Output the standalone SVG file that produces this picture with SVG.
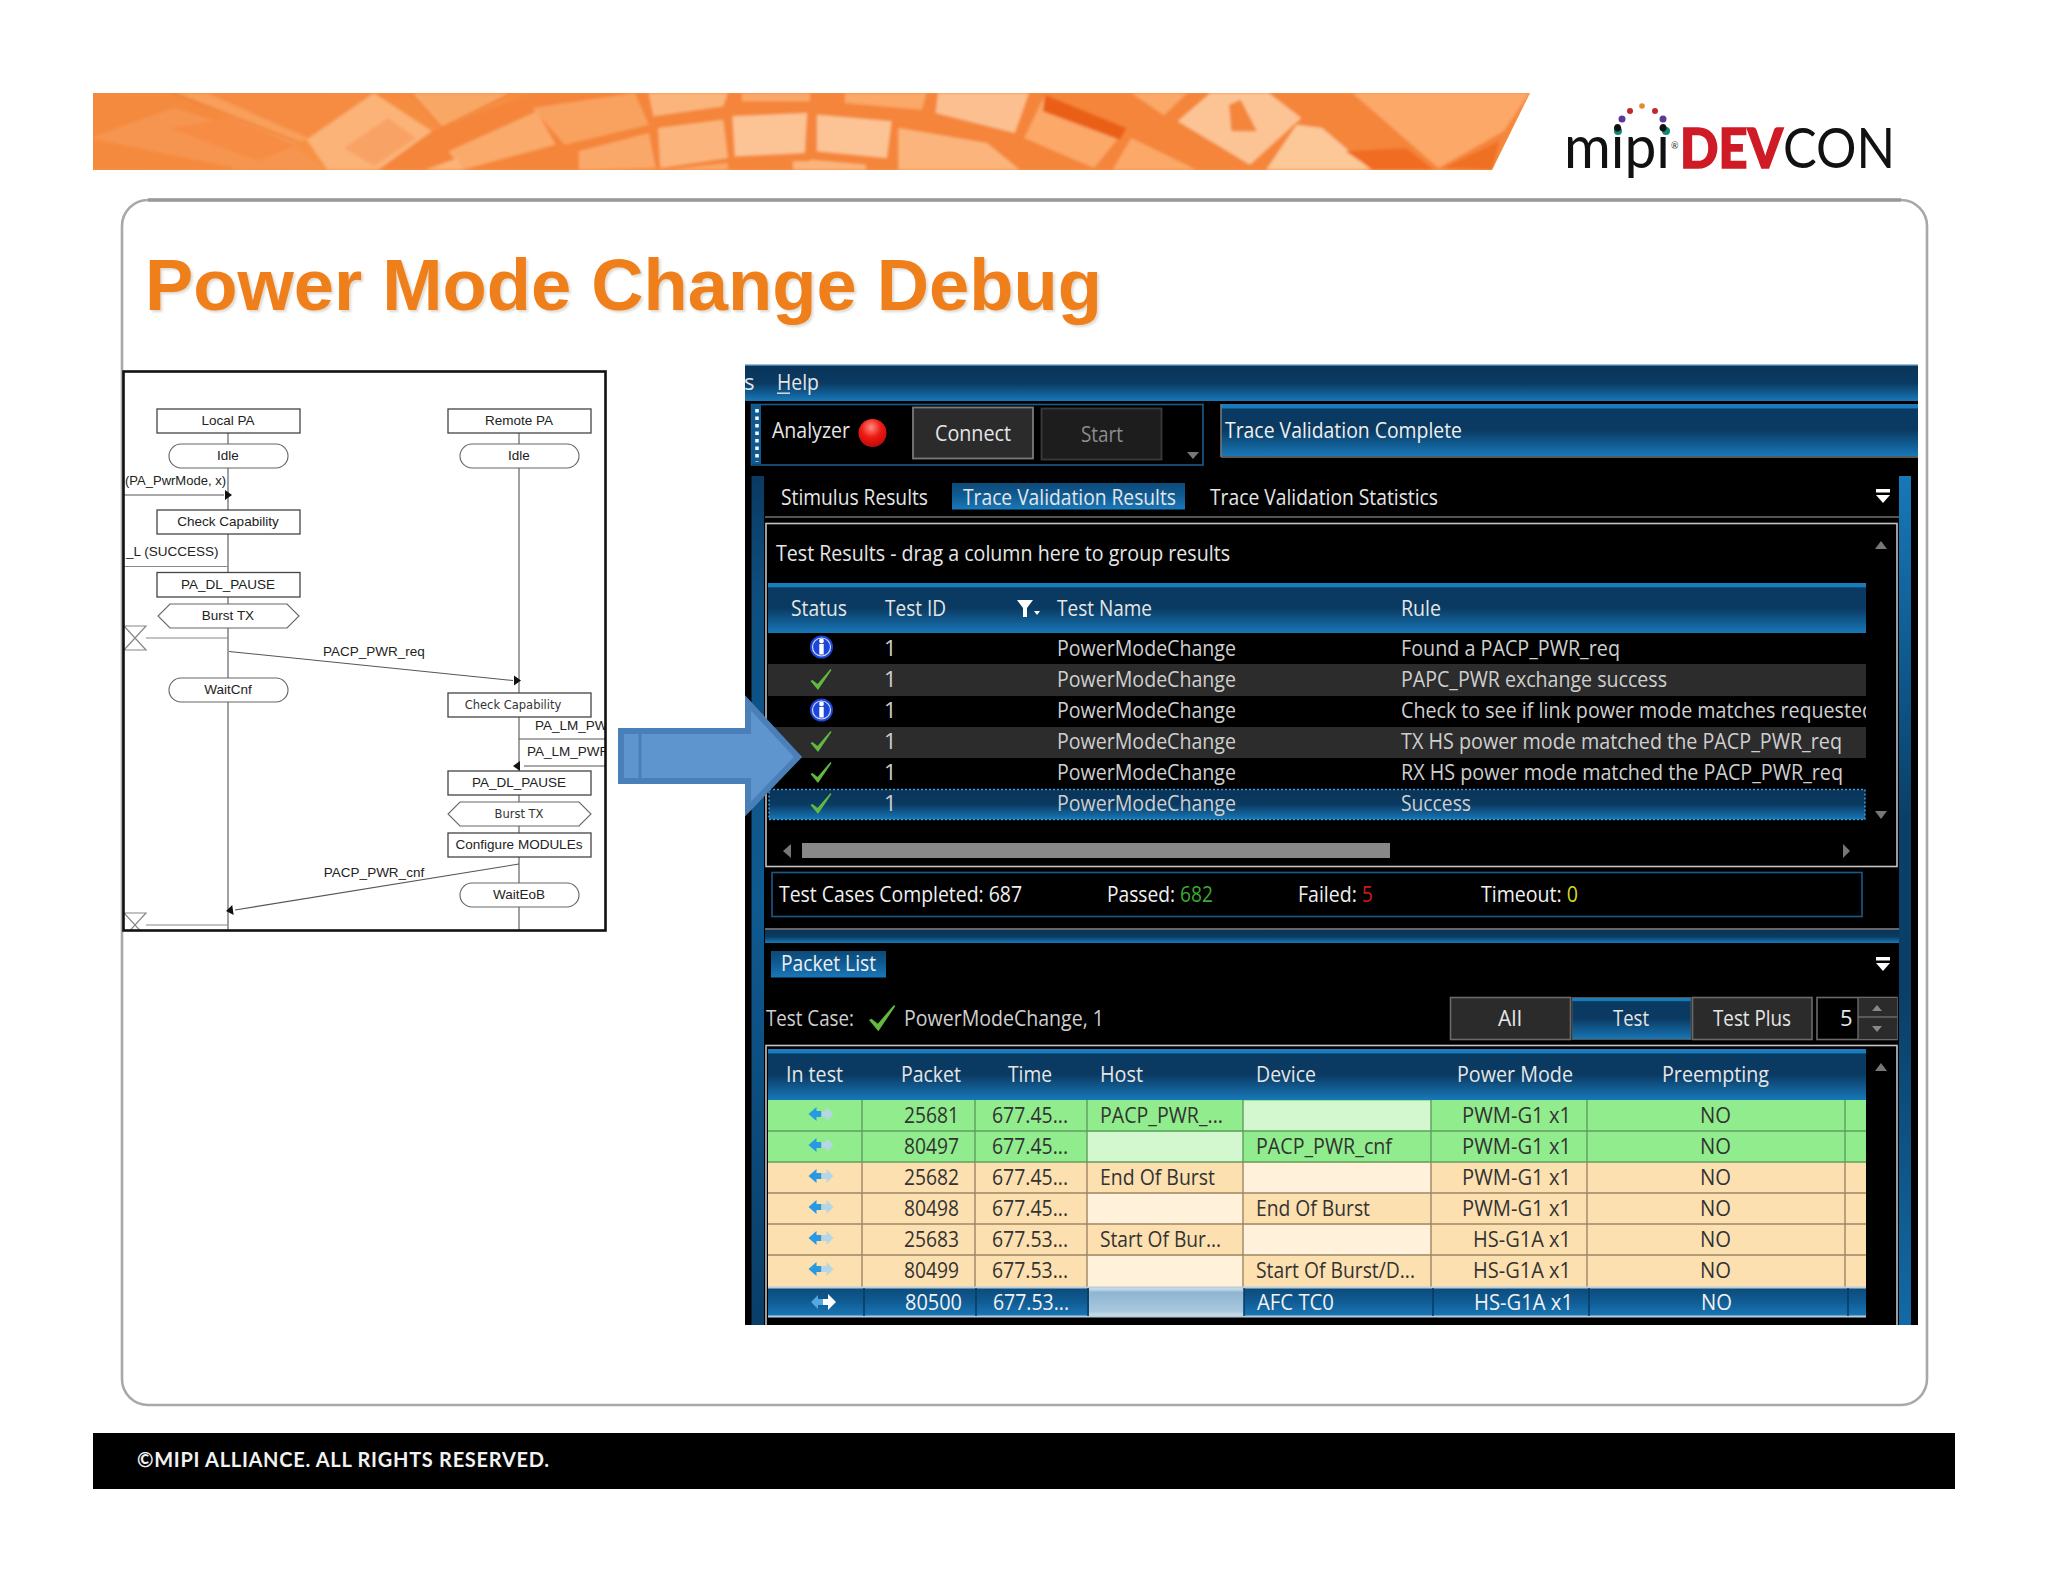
<svg xmlns="http://www.w3.org/2000/svg" xmlns:xlink="http://www.w3.org/1999/xlink" width="2048" height="1582" viewBox="0 0 2048 1582">
<style>
.s{font-family:"Liberation Sans",Arial,sans-serif;font-size:13.5px;fill:#222;text-anchor:middle}
.sl{text-anchor:start}
.sv{font-family:"DejaVu Sans",sans-serif;font-size:11.5px;fill:#333}
.b{fill:#fff;stroke:#444;stroke-width:1.3}
.o{fill:#fff;stroke:#666;stroke-width:1.1}
.ln{stroke:#555;stroke-width:1.1;fill:none}
.lg{stroke:#888;stroke-width:1.2;fill:none}
.t{font-family:"Open Sans","Noto Sans",sans-serif;font-size:22px;fill:#e6e6e6}
.c{fill:#cfcfcf}
.d{fill:#333;text-anchor:start}
.m{text-anchor:middle}
.lb{stroke:#1a5a8a;stroke-width:1.6;fill:none}
.pg{stroke:none}
.ar{fill:#8a8a8a}
</style>
<defs>
<linearGradient id="gH" x1="0" y1="0" x2="0" y2="1"><stop offset="0" stop-color="#1a7cba"/><stop offset=".07" stop-color="#1a7cba"/><stop offset=".1" stop-color="#0a3a62"/><stop offset=".5" stop-color="#0a3a62"/><stop offset="1" stop-color="#1878b8"/></linearGradient>
<linearGradient id="gB" x1="0" y1="0" x2="0" y2="1"><stop offset="0" stop-color="#0a3459"/><stop offset=".5" stop-color="#0a3a62"/><stop offset="1" stop-color="#1878b8"/></linearGradient>
<linearGradient id="gS" x1="0" y1="0" x2="0" y2="1"><stop offset="0" stop-color="#0d4a78"/><stop offset=".45" stop-color="#0f5a92"/><stop offset="1" stop-color="#1a78b8"/></linearGradient>
<linearGradient id="gV" x1="0" y1="0" x2="0" y2="1"><stop offset="0" stop-color="#1878b8"/><stop offset=".2" stop-color="#0f5c92"/><stop offset=".4" stop-color="#0a4068"/><stop offset=".6" stop-color="#0a3e66"/><stop offset="1" stop-color="#126aa5"/></linearGradient>
<linearGradient id="gL" x1="0" y1="0" x2="0" y2="1"><stop offset="0" stop-color="#0a3a62"/><stop offset=".15" stop-color="#0e4f80"/><stop offset=".5" stop-color="#0f5a92"/><stop offset="1" stop-color="#0a3e68"/></linearGradient>
<linearGradient id="gE" x1="0" y1="0" x2="0" y2="1"><stop offset="0" stop-color="#dbe6ee"/><stop offset=".15" stop-color="#8fb5d2"/><stop offset=".8" stop-color="#a9c8de"/><stop offset="1" stop-color="#d8e4ec"/></linearGradient>
<linearGradient id="gA" x1="0" y1="0" x2="1" y2="1"><stop offset="0" stop-color="#f58a3c"/><stop offset="1" stop-color="#f7994f"/></linearGradient>
<radialGradient id="gR" cx=".45" cy=".3" r=".8"><stop offset="0" stop-color="#ff8a80"/><stop offset=".45" stop-color="#ee1a12"/><stop offset="1" stop-color="#b00808"/></radialGradient>
<clipPath id="cF"><rect x="124" y="372" width="481" height="558"/></clipPath>
<clipPath id="cS"><rect x="745" y="364" width="1173" height="961"/></clipPath>
<clipPath id="cR"><rect x="768" y="633" width="1098" height="187"/></clipPath>
<clipPath id="cB"><polygon points="93,93 1530,93 1492,170 93,170"/></clipPath>
<filter id="bl" x="-2%" y="-10%" width="104%" height="120%"><feGaussianBlur stdDeviation="1.5"/></filter>
<filter id="ts" x="-2%" y="-10%" width="104%" height="120%"><feGaussianBlur stdDeviation="1.2"/></filter>
<g id="ck"><polygon points="0,12 2,11 7,15 20,0 21,1 7.5,21" fill="#62b840"/></g>
<g id="inf"><circle r="11.500" fill="#1c46d6"/><circle r="9" fill="none" stroke="#cfd9ff" stroke-width="1.200"/><rect x="-2.200" y="-3" width="4.400" height="10.500" fill="#fff"/><circle cy="-6" r="2.400" fill="#fff"/></g>
<g id="da"><polygon points="-13,0 -5,-7 -5,-3 0,-3 0,3 -5,3 -5,7" fill="#2a9ae0"/><polygon points="12,0 5,-7 5,-3 0,-3 0,3 5,3 5,7" fill="#b6d6e6"/></g>
<g id="mn"><rect x="-7" y="0" width="14" height="3.500" fill="#fff"/><polygon points="-7,6 7,6 0,14" fill="#fff"/></g>
<polygon id="ah" points="0,0 -7,-5 -7,5" fill="#111"/>
</defs>
<rect width="2048" height="1582" fill="#fff"/>

<g id="banner" clip-path="url(#cB)"><rect x="93" y="93" width="1440" height="77" fill="url(#gA)"/>
<g filter="url(#bl)">
<g transform="translate(90,88) scale(.4656,.3333)">
<polygon class="pg" points="0,15 180,15 440,170 300,245 0,245" fill="#f48a3e"/>
<polygon class="pg" points="0,150 180,60 440,175 500,245 330,245" fill="#f6954f"/>
<polygon class="pg" points="170,120 300,90 440,175 360,220" fill="#f78d45"/>
<polygon class="pg" points="250,15 610,15 470,150" fill="#f58c42"/>
<polygon class="pg" points="180,15 250,15 470,150 440,170" fill="#f89f5a"/>
<path d="M180,15 L450,165" stroke="#ea7326" stroke-width="4" fill="none"/>
<polygon class="pg" points="610,15 735,130 620,245 510,245 465,155" fill="#fbb378"/>
<polygon class="pg" points="545,180 640,90 700,150 610,235" fill="#f9a265"/>
<polygon class="pg" points="690,15 905,15 755,118" fill="#f9a765"/>
<path d="M690,15 L755,118 L905,15" stroke="#ed7c30" stroke-width="3" fill="none"/>
<polygon class="pg" points="735,130 950,15 1200,15 1400,15 1568,15 1568,245 620,245" fill="#f4853a"/>
<polygon class="pg" points="950,60 1170,15 1200,110 1020,170" fill="#f9a25f"/>
<polygon class="pg" points="770,190 960,70 1000,170 800,245" fill="#faaa6a"/>
<polygon class="pg" points="1200,15 1370,15 1360,55 1210,85" fill="#fbb57c"/>
<polygon class="pg" points="1380,85 1540,75 1535,195 1385,205" fill="#fcc494"/>
<polygon class="pg" points="1220,120 1360,95 1370,210 1225,240" fill="#fbb57c"/>
<polygon class="pg" points="1050,190 1200,135 1215,240 1050,245" fill="#faa869"/>
<polygon class="pg" points="1400,15 1568,15 1568,40 1400,40" fill="#faa869"/>
<polygon class="pg" points="720,245 790,210 800,245" fill="#fbb378"/>
<polygon class="pg" points="1240,245 1370,225 1370,245" fill="#fba868"/>
<polygon class="pg" points="1510,245 1510,220 1568,220 1568,245" fill="#fbb57c"/>
</g>
<g transform="translate(810,88) scale(.4656,.3333)">
<polygon class="pg" points="0,15 1545,15 1465,245 0,245" fill="#f4853a"/>
<polygon class="pg" points="75,15 250,15 240,65 75,45" fill="#fba868"/>
<polygon class="pg" points="275,15 470,15 440,135 270,75" fill="#fcc090"/>
<polygon class="pg" points="15,80 175,100 165,210 15,190" fill="#fcc494"/>
<polygon class="pg" points="190,120 380,165 450,245 190,245" fill="#fbb57c"/>
<polygon class="pg" points="0,215 120,230 120,245 0,245" fill="#fbb57c"/>
<polygon class="pg" points="505,20 680,120 610,240 460,150" fill="#fba868"/>
<polygon class="pg" points="505,20 680,120 665,155 500,70" fill="#ea5f14"/>
<polygon class="pg" points="690,15 810,15 760,82" fill="#fba868"/>
<polygon class="pg" points="690,150 830,245 650,245" fill="#fba868"/>
<polygon class="pg" points="860,15 985,15 1055,90 945,230 790,100" fill="#fcc494"/>
<polygon class="pg" points="900,50 925,35 960,130 905,130" fill="#f4853a"/>
<polygon class="pg" points="1045,110 1100,120 1205,245 980,245" fill="#fcc898"/>
<polygon class="pg" points="1165,15 1545,15 1490,130 1350,240" fill="#fba868"/>
<polygon class="pg" points="1360,240 1480,160 1465,245" fill="#ef7024"/>
<polygon class="pg" points="1150,190 1280,180 1340,245 1210,245" fill="#f06c20"/>
</g>
</g></g>

<g id="logo">
<circle cx="1642" cy="106" r="2.800" fill="#e8872c"/><circle cx="1630" cy="111" r="3" fill="#c4262e"/><circle cx="1655" cy="111" r="3" fill="#c4262e"/>
<circle cx="1622" cy="119" r="3.500" fill="#5b3a97"/><circle cx="1663" cy="119" r="3.500" fill="#5b3a97"/><circle cx="1618" cy="131" r="4" fill="#0f8a74"/><circle cx="1666" cy="131" r="4" fill="#0f8a74"/>
<text x="1564" y="168" font-family="Lato,sans-serif" font-size="60" fill="#111" textLength="106" lengthAdjust="spacingAndGlyphs">mipi</text>
<text x="1671" y="149" font-family="Lato,sans-serif" font-size="9" fill="#333">®</text>
<text x="1680" y="168" font-family="Lato,sans-serif" font-size="56" fill="#111" textLength="215" lengthAdjust="spacingAndGlyphs"><tspan font-weight="900" fill="#cf1b26" stroke="#cf1b26" stroke-width="1.500">DEV</tspan>CON</text>
</g>

<g id="card"><rect x="122" y="200" width="1805" height="1205" rx="26" fill="#fff" stroke="#a8a8a8" stroke-width="2.600"/><path d="M148,200 H1901" stroke="#999" stroke-width="3.500"/></g>
<g id="title">
<text x="145" y="310" font-family="Liberation Sans,Arial,sans-serif" font-weight="700" font-size="72" fill="#ef7f1a" textLength="957" lengthAdjust="spacingAndGlyphs" style="filter:drop-shadow(2px 2px 1.200px rgba(190,180,165,.5))">Power Mode Change Debug</text></g>

<g id="sequence">
<rect x="123.500" y="371.500" width="482" height="559" fill="#fff"/>
<g clip-path="url(#cF)">
<g id="connectors">
<path class="ln" d="M228,433V931M519,433V931"/>
<path class="ln" d="M124,495H224"/><use href="#ah" x="232" y="495"/>
<path class="lg" d="M124,566.500H228M146,638H228M146,925H228"/>
<path class="lg" d="M124,626H146L124,650H146L124,626M124,913L146,913L124,937H146L124,913" stroke-width="1"/>
<path class="ln" d="M229,651.500L513,680.500"/><use href="#ah" x="521" y="680.500"/>
<path class="ln" d="M519,739H606M524,766H606"/><use href="#ah" transform="translate(513,766) rotate(180)"/>
<path class="ln" d="M519,864L235,910"/><use href="#ah" transform="translate(226,911) rotate(172)"/>
</g>
<text class="s sl" x="125" y="485" textLength="101" lengthAdjust="spacingAndGlyphs">(PA_PwrMode, x)</text>
<text class="s sl" x="126" y="556">_L (SUCCESS)</text>
<text class="s" x="374" y="655.500">PACP_PWR_req</text>
<text class="s" x="374" y="877">PACP_PWR_cnf</text>
<text class="s sl" x="535" y="729.500">PA_LM_PWR</text>
<text class="s sl" x="527" y="756">PA_LM_PWR</text>
</g>
<g id="n-local-pa"><rect class="b" x="157" y="409" width="143" height="24"/><text class="s" x="228" y="425">Local PA</text></g>
<g id="n-remote-pa"><rect class="b" x="448" y="409" width="143" height="24"/><text class="s" x="519" y="425">Remote PA</text></g>
<g id="n-idle-l"><rect class="o" x="169" y="444" width="119" height="24" rx="12"/><text class="s" x="228" y="460">Idle</text></g>
<g id="n-idle-r"><rect class="o" x="460" y="444" width="119" height="24" rx="12"/><text class="s" x="519" y="460">Idle</text></g>
<g id="n-check-l"><rect class="b" x="157" y="510" width="143" height="24"/><text class="s" x="228" y="526">Check Capability</text></g>
<g id="n-pause-l"><rect class="b" x="157" y="572.500" width="143" height="24.500"/><text class="s" x="228" y="589">PA_DL_PAUSE</text></g>
<g id="n-burst-l"><polygon class="o" points="170,604 287,604 299,616 287,628 170,628 158,616"/><text class="s" x="228" y="619.500">Burst TX</text></g>
<g id="n-waitcnf"><rect class="o" x="169" y="678" width="119" height="24" rx="12"/><text class="s" x="228" y="693.500">WaitCnf</text></g>
<g id="n-check-r"><rect class="b" x="448" y="693" width="143" height="24"/><text class="sv" text-anchor="middle" x="513" y="709">Check Capability</text></g>
<g id="n-pause-r"><rect class="b" x="448" y="771" width="143" height="24"/><text class="s" x="519" y="787">PA_DL_PAUSE</text></g>
<g id="n-burst-r"><polygon class="o" points="460,802 579,802 591,814 579,826 460,826 448,814"/><text class="sv" text-anchor="middle" x="519" y="818">Burst TX</text></g>
<g id="n-config"><rect class="b" x="448" y="833" width="143" height="24"/><text class="s" x="519" y="848.500">Configure MODULEs</text></g>
<g id="n-waiteob"><rect class="o" x="460" y="883" width="119" height="24" rx="12"/><text class="s" x="519" y="898.500">WaitEoB</text></g>
<rect x="123.500" y="371.500" width="482" height="559" fill="none" stroke="#111" stroke-width="2.600"/>
</g>

<g id="screen" clip-path="url(#cS)">
<rect x="745" y="364" width="1173" height="961" fill="#000"/>
<rect x="745" y="365" width="1173" height="36" fill="url(#gB)"/><rect x="745" y="364" width="1173" height="1.500" fill="#8fc0e0"/>
<text class="t" x="744" y="389.500">s</text><text class="t" x="777" y="389.500" textLength="42" lengthAdjust="spacingAndGlyphs">Help</text><rect x="777" y="392.500" width="13" height="1.400" fill="#e6e6e6"/>
<rect x="751.500" y="404.500" width="451.500" height="60.500" class="lb"/>
<rect x="752" y="405" width="9" height="59" fill="#0e5a90"/><path d="M757,409V462" stroke="#fff" stroke-width="3.500" stroke-dasharray="3.500 4"/>
<text class="t" x="772" y="438" fill="#f0f0f0" textLength="78" lengthAdjust="spacingAndGlyphs">Analyzer</text>
<ellipse cx="872.500" cy="433" rx="14" ry="14" fill="url(#gR)"/>
<rect x="913" y="407.500" width="120" height="51" fill="#2b2b2b" stroke="#7a7a7a" stroke-width="1.800"/><text class="t" x="935" y="441" textLength="76" lengthAdjust="spacingAndGlyphs">Connect</text>
<rect x="1041.500" y="408.500" width="120" height="51" fill="#1d1d1d" stroke="#3a3a3a" stroke-width="1.800"/><text class="t" x="1081" y="442" style="fill:#8c8c8c" textLength="42" lengthAdjust="spacingAndGlyphs">Start</text>
<polygon points="1187,452 1199,452 1193,459" fill="#777"/>
<rect x="1221" y="404" width="697" height="52" fill="url(#gH)"/><path d="M1221,457H1918M1221,404V457" stroke="#777" stroke-width="1.600"/>
<text class="t" x="1225" y="438" style="fill:#f0f0f0" textLength="237" lengthAdjust="spacingAndGlyphs">Trace Validation Complete</text>
<rect x="751.500" y="476" width="12.500" height="849" fill="url(#gL)"/><rect x="1899" y="476" width="12" height="849" fill="url(#gV)"/>

<text class="t" x="781" y="505" textLength="147" lengthAdjust="spacingAndGlyphs">Stimulus Results</text>
<rect x="952" y="483" width="233" height="26.500" fill="url(#gS)"/><text class="t" x="963" y="505" textLength="213" lengthAdjust="spacingAndGlyphs">Trace Validation Results</text>
<text class="t" x="1210" y="505" textLength="228" lengthAdjust="spacingAndGlyphs">Trace Validation Statistics</text>
<use href="#mn" x="1883" y="489"/>
<rect x="765" y="516" width="1134" height="2" fill="#555"/>

<rect x="766" y="523.500" width="1131" height="343" fill="#000" stroke="#c4c4c4" stroke-width="1.600"/>
<text class="t" x="776" y="561" textLength="454" lengthAdjust="spacingAndGlyphs">Test Results - drag a column here to group results</text>
<polygon points="1875,549 1887,549 1881,541" fill="#777"/>
<rect x="768" y="583" width="1098" height="50" fill="url(#gH)"/>
<text class="t" x="791" y="616" textLength="56" lengthAdjust="spacingAndGlyphs">Status</text>
<text class="t" x="885" y="616" textLength="61" lengthAdjust="spacingAndGlyphs">Test ID</text>
<polygon points="1017,600 1033,600 1027,608 1027,617 1023,617 1023,608" fill="#fff"/><polygon points="1034,611 1040,611 1037,615" fill="#fff"/>
<text class="t" x="1057" y="616" textLength="95" lengthAdjust="spacingAndGlyphs">Test Name</text>
<text class="t" x="1401" y="616" textLength="40" lengthAdjust="spacingAndGlyphs">Rule</text>

<rect x="768" y="664" width="1098" height="32" fill="#2c2c2c"/><rect x="768" y="727" width="1098" height="31" fill="#2c2c2c"/>
<rect x="769" y="789.500" width="1096" height="30" fill="url(#gB)" stroke="#3f9ad2" stroke-width="1.500" stroke-dasharray="2 2"/>
<use href="#inf" x="821.500" y="647"/><use href="#inf" x="821.500" y="710"/>
<use href="#ck" x="810.500" y="669"/><use href="#ck" x="810.500" y="731"/><use href="#ck" x="810.500" y="762"/><use href="#ck" x="810.500" y="793"/>
<g class="rows">
<text class="t c" x="884" y="656">1</text><text class="t c" x="884" y="687">1</text><text class="t c" x="884" y="718">1</text><text class="t c" x="884" y="749">1</text><text class="t c" x="884" y="780">1</text><text class="t c" x="884" y="811">1</text>
<text class="t c" x="1057" y="656" textLength="179" lengthAdjust="spacingAndGlyphs">PowerModeChange</text>
<text class="t c" x="1057" y="687" textLength="179" lengthAdjust="spacingAndGlyphs">PowerModeChange</text>
<text class="t c" x="1057" y="718" textLength="179" lengthAdjust="spacingAndGlyphs">PowerModeChange</text>
<text class="t c" x="1057" y="749" textLength="179" lengthAdjust="spacingAndGlyphs">PowerModeChange</text>
<text class="t c" x="1057" y="780" textLength="179" lengthAdjust="spacingAndGlyphs">PowerModeChange</text>
<text class="t c" x="1057" y="811" textLength="179" lengthAdjust="spacingAndGlyphs">PowerModeChange</text>
<g clip-path="url(#cR)">
<text class="t c" x="1401" y="656" textLength="219" lengthAdjust="spacingAndGlyphs">Found a PACP_PWR_req</text>
<text class="t c" x="1401" y="687" textLength="266" lengthAdjust="spacingAndGlyphs">PAPC_PWR exchange success</text>
<text class="t c" x="1401" y="718" textLength="473" lengthAdjust="spacingAndGlyphs">Check to see if link power mode matches requested</text>
<text class="t c" x="1401" y="749" textLength="441" lengthAdjust="spacingAndGlyphs">TX HS power mode matched the PACP_PWR_req</text>
<text class="t c" x="1401" y="780" textLength="442" lengthAdjust="spacingAndGlyphs">RX HS power mode matched the PACP_PWR_req</text>
<text class="t c" x="1401" y="811" textLength="70" lengthAdjust="spacingAndGlyphs">Success</text>
</g></g>
<polygon points="1875,811 1887,811 1881,819" fill="#777"/>
<polygon points="783,851 791,844 791,858" fill="#777"/><rect x="802" y="843" width="588" height="15" fill="#888"/><polygon points="1850,851 1843,844 1843,858" fill="#777"/>

<rect x="772" y="872.500" width="1090" height="44" class="lb"/>
<text class="t" x="779" y="902" style="fill:#f0f0f0" textLength="243" lengthAdjust="spacingAndGlyphs">Test Cases Completed: 687</text>
<text class="t" x="1107" y="902" style="fill:#f0f0f0" textLength="106" lengthAdjust="spacingAndGlyphs">Passed: <tspan style="fill:#3da832">682</tspan></text>
<text class="t" x="1298" y="902" style="fill:#f0f0f0" textLength="75" lengthAdjust="spacingAndGlyphs">Failed: <tspan style="fill:#d01818">5</tspan></text>
<text class="t" x="1481" y="902" style="fill:#f0f0f0" textLength="97" lengthAdjust="spacingAndGlyphs">Timeout: <tspan style="fill:#d8d820">0</tspan></text>
<rect x="765" y="928" width="1134" height="2" fill="#666"/><rect x="765" y="930" width="1134" height="13" fill="url(#gB)"/>

<rect x="771" y="951" width="115" height="26.500" fill="url(#gS)"/><text class="t" x="781" y="971" style="fill:#f0f0f0" textLength="95" lengthAdjust="spacingAndGlyphs">Packet List</text>
<use href="#mn" x="1883" y="957"/>
<text class="t c" x="766" y="1026" textLength="88" lengthAdjust="spacingAndGlyphs">Test Case:</text>
<use href="#ck" transform="translate(869,1005) scale(1.250)"/>
<text class="t c" x="904" y="1026" textLength="200" lengthAdjust="spacingAndGlyphs">PowerModeChange, 1</text>
<rect x="1450.500" y="997.500" width="120" height="42" fill="#2b2b2b" stroke="#6a6a6a" stroke-width="1.600"/><text class="t" x="1498" y="1026" textLength="24" lengthAdjust="spacingAndGlyphs">All</text>
<rect x="1572" y="997.500" width="119" height="42" fill="url(#gH)" stroke="#555" stroke-width="1"/><text class="t" x="1613" y="1026" textLength="36" lengthAdjust="spacingAndGlyphs">Test</text>
<rect x="1692.500" y="997.500" width="119.500" height="42" fill="#2b2b2b" stroke="#6a6a6a" stroke-width="1.600"/><text class="t" x="1713" y="1026" textLength="78" lengthAdjust="spacingAndGlyphs">Test Plus</text>
<rect x="1817" y="997.500" width="80" height="42" fill="#000" stroke="#6a6a6a" stroke-width="1.600"/><rect x="1858" y="998" width="39" height="41" fill="#2b2b2b"/><path d="M1858,998V1039M1858,1017H1897" stroke="#6a6a6a" stroke-width="1.400"/>
<text class="t" x="1840" y="1026">5</text><polygon points="1872,1011 1882,1011 1877,1005" fill="#888"/><polygon points="1872,1026 1882,1026 1877,1032" fill="#888"/>

<rect x="766" y="1045.500" width="1131" height="300" fill="#000" stroke="#c4c4c4" stroke-width="1.600"/>
<rect x="768" y="1049" width="1098" height="51" fill="url(#gH)"/>
<text class="t" x="786" y="1082" textLength="57" lengthAdjust="spacingAndGlyphs">In test</text>
<text class="t" x="901" y="1082" textLength="60" lengthAdjust="spacingAndGlyphs">Packet</text>
<text class="t" x="1008" y="1082" textLength="44" lengthAdjust="spacingAndGlyphs">Time</text>
<text class="t" x="1100" y="1082" textLength="43" lengthAdjust="spacingAndGlyphs">Host</text>
<text class="t" x="1256" y="1082" textLength="60" lengthAdjust="spacingAndGlyphs">Device</text>
<text class="t" x="1457" y="1082" textLength="116" lengthAdjust="spacingAndGlyphs">Power Mode</text>
<text class="t" x="1662" y="1082" textLength="107" lengthAdjust="spacingAndGlyphs">Preempting</text>
<polygon points="1875,1071 1887,1071 1881,1063" fill="#777"/>

<g id="packet-rows">
<rect x="768" y="1100" width="1098" height="62" fill="#90ec8c"/><rect x="768" y="1162" width="1098" height="125" fill="#fde0b0"/>
<rect x="1243" y="1101" width="188" height="30" fill="#d3f8d0"/><rect x="1087" y="1132" width="156" height="30" fill="#d3f8d0"/>
<rect x="1243" y="1163" width="188" height="30" fill="#fff1da"/><rect x="1087" y="1194" width="156" height="30" fill="#fff1da"/>
<rect x="1243" y="1225" width="188" height="30" fill="#fff1da"/><rect x="1087" y="1256" width="156" height="31" fill="#fff1da"/>
<path d="M768,1131H1866M768,1162H1866M862,1100V1162M975,1100V1162M1087,1100V1162M1243,1100V1162M1431,1100V1162M1587,1100V1162M1845,1100V1162" stroke="#5f9e5f" stroke-width="1.400" fill="none"/>
<path d="M768,1193H1866M768,1224H1866M768,1255H1866M862,1162V1287M975,1162V1287M1087,1162V1287M1243,1162V1287M1431,1162V1287M1587,1162V1287M1845,1162V1287" stroke="#9c8666" stroke-width="1.400" fill="none"/>
<rect x="768" y="1287" width="1098" height="30" fill="url(#gS)"/><rect x="1089" y="1288" width="155" height="29" fill="url(#gE)"/>
<path d="M768,1287.500H1866M768,1316.500H1866" stroke="#b9cfdf" stroke-width="2"/>
<path d="M864,1288V1316M976,1288V1316M1088,1288V1316M1244,1288V1316M1433,1288V1316M1589,1288V1316M1848,1288V1316" stroke="#0a3a62" stroke-width="1.500"/>
<use href="#da" x="821.500" y="1114"/><use href="#da" x="821.500" y="1145"/><use href="#da" x="821.500" y="1176"/><use href="#da" x="821.500" y="1207"/><use href="#da" x="821.500" y="1238"/><use href="#da" x="821.500" y="1269"/>
<polygon points="811,1302 818,1295 818,1299 823,1299 823,1305 818,1305 818,1309" fill="#55a8e0"/><polygon points="836,1302 828,1294 828,1299 823,1299 823,1305 828,1305 828,1310" fill="#fff"/>
<text class="t d" x="904" y="1122.500" textLength="55" lengthAdjust="spacingAndGlyphs">25681</text><text class="t d" x="992" y="1122.500" textLength="76" lengthAdjust="spacingAndGlyphs">677.45...</text><text class="t d" x="1100" y="1122.500" textLength="123" lengthAdjust="spacingAndGlyphs">PACP_PWR_...</text><text class="t d" x="1462" y="1122.500" textLength="109" lengthAdjust="spacingAndGlyphs">PWM-G1 x1</text><text class="t d" x="1700" y="1122.500" textLength="31" lengthAdjust="spacingAndGlyphs">NO</text>
<text class="t d" x="904" y="1154" textLength="55" lengthAdjust="spacingAndGlyphs">80497</text><text class="t d" x="992" y="1154" textLength="76" lengthAdjust="spacingAndGlyphs">677.45...</text><text class="t d" x="1256" y="1154" textLength="136" lengthAdjust="spacingAndGlyphs">PACP_PWR_cnf</text><text class="t d" x="1462" y="1154" textLength="109" lengthAdjust="spacingAndGlyphs">PWM-G1 x1</text><text class="t d" x="1700" y="1154" textLength="31" lengthAdjust="spacingAndGlyphs">NO</text>
<text class="t d" x="904" y="1185" textLength="55" lengthAdjust="spacingAndGlyphs">25682</text><text class="t d" x="992" y="1185" textLength="76" lengthAdjust="spacingAndGlyphs">677.45...</text><text class="t d" x="1100" y="1185" textLength="115" lengthAdjust="spacingAndGlyphs">End Of Burst</text><text class="t d" x="1462" y="1185" textLength="109" lengthAdjust="spacingAndGlyphs">PWM-G1 x1</text><text class="t d" x="1700" y="1185" textLength="31" lengthAdjust="spacingAndGlyphs">NO</text>
<text class="t d" x="904" y="1216" textLength="55" lengthAdjust="spacingAndGlyphs">80498</text><text class="t d" x="992" y="1216" textLength="76" lengthAdjust="spacingAndGlyphs">677.45...</text><text class="t d" x="1256" y="1216" textLength="114" lengthAdjust="spacingAndGlyphs">End Of Burst</text><text class="t d" x="1462" y="1216" textLength="109" lengthAdjust="spacingAndGlyphs">PWM-G1 x1</text><text class="t d" x="1700" y="1216" textLength="31" lengthAdjust="spacingAndGlyphs">NO</text>
<text class="t d" x="904" y="1247" textLength="55" lengthAdjust="spacingAndGlyphs">25683</text><text class="t d" x="992" y="1247" textLength="76" lengthAdjust="spacingAndGlyphs">677.53...</text><text class="t d" x="1100" y="1247" textLength="121" lengthAdjust="spacingAndGlyphs">Start Of Bur...</text><text class="t d" x="1473" y="1247" textLength="98" lengthAdjust="spacingAndGlyphs">HS-G1A x1</text><text class="t d" x="1700" y="1247" textLength="31" lengthAdjust="spacingAndGlyphs">NO</text>
<text class="t d" x="904" y="1278" textLength="55" lengthAdjust="spacingAndGlyphs">80499</text><text class="t d" x="992" y="1278" textLength="76" lengthAdjust="spacingAndGlyphs">677.53...</text><text class="t d" x="1256" y="1278" textLength="159" lengthAdjust="spacingAndGlyphs">Start Of Burst/D...</text><text class="t d" x="1473" y="1278" textLength="98" lengthAdjust="spacingAndGlyphs">HS-G1A x1</text><text class="t d" x="1700" y="1278" textLength="31" lengthAdjust="spacingAndGlyphs">NO</text>
<text class="t" x="905" y="1310" style="fill:#f2f2f2" textLength="57" lengthAdjust="spacingAndGlyphs">80500</text><text class="t" x="993" y="1310" style="fill:#f2f2f2" textLength="76" lengthAdjust="spacingAndGlyphs">677.53...</text><text class="t" x="1257" y="1310" style="fill:#f2f2f2" textLength="77" lengthAdjust="spacingAndGlyphs">AFC TC0</text><text class="t" x="1474" y="1310" style="fill:#f2f2f2" textLength="99" lengthAdjust="spacingAndGlyphs">HS-G1A x1</text><text class="t" x="1701" y="1310" style="fill:#f2f2f2" textLength="31" lengthAdjust="spacingAndGlyphs">NO</text>
</g>
</g>

<g id="big-arrow">
<polygon points="621,731 748,731 748,703 798,757 748,809 748,781 621,781" fill="#5f95cf" stroke="#4a7fb8" stroke-width="6" stroke-linejoin="miter"/>
<path d="M640,731V781" stroke="#4a7fb8" stroke-width="3"/>
</g>

<g id="footer"><rect x="93" y="1433" width="1862" height="56" fill="#000"/>
<text x="137" y="1467" font-family="Lato,sans-serif" font-weight="700" font-size="20" fill="#f2f2f2" textLength="412" lengthAdjust="spacing">©MIPI ALLIANCE. ALL RIGHTS RESERVED.</text></g>
</svg>
